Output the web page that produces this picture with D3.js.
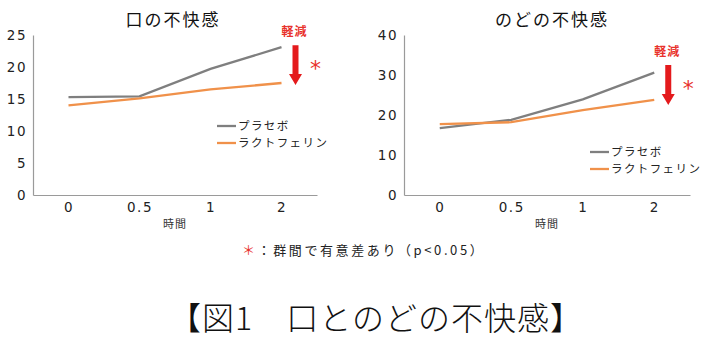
<!DOCTYPE html>
<html>
<head>
<meta charset="utf-8">
<script src="https://cdn.jsdelivr.net/npm/d3@7"></script>
<style>
  body { margin: 0; background: #fff; }
  svg { display: block; font-family: "Noto Sans CJK JP", "DejaVu Sans", sans-serif; }
</style>
</head>
<body>
<div id="chart"></div>
<script>
var width = 709;
var height = 364;

// data
var times = ["0", "0.5", "1", "2"];
var seriesNames = ["プラセボ", "ラクトフェリン"];
var seriesColors = ["#7f7f7f", "#f0914a"];

var mouthPlacebo = [15.3, 15.4, 19.7, 23.1];
var mouthLacto   = [14.0, 15.1, 16.5, 17.5];
var mouthTicks   = [0, 5, 10, 15, 20, 25];
var mouthArrow   = [23.4, 17.2];   // arrow top / bottom in data units

var throatPlacebo = [16.7, 18.8, 23.9, 30.6];
var throatLacto   = [17.7, 18.2, 21.2, 23.8];
var throatTicks   = [0, 10, 20, 30, 40];
var throatArrow   = [32.5, 22.5];

var svg = d3.select("#chart").append("svg")
    .attr("width", width)
    .attr("height", height);

function drawChart(cfg) {
    var g = svg.append("g");

    var x = d3.scalePoint()
        .domain(times)
        .range([cfg.left, cfg.right])
        .padding(0.5);

    var y = d3.scaleLinear()
        .domain([0, d3.max(cfg.ticks)])
        .range([195, 35]);

    // axes (no tick marks)
    var yAxis = g.append("g")
        .attr("transform", "translate(" + cfg.left + ",0)")
        .call(d3.axisLeft(y).tickValues(cfg.ticks).tickSize(0).tickPadding(6));
    var xAxis = g.append("g")
        .attr("transform", "translate(0,195)")
        .call(d3.axisBottom(x).tickSize(0).tickPadding(7));

    [yAxis, xAxis].forEach(function(a) {
        a.select(".domain").attr("stroke", "#9a9a9a").attr("stroke-width", 1.2);
        a.selectAll("text")
            .attr("fill", "#222")
            .style("font-family", "'DejaVu Sans', sans-serif")
            .style("font-size", "13.5px")
            .style("letter-spacing", "1.5px");
    });

    g.append("text")
        .attr("x", (cfg.left + cfg.right) / 2)
        .attr("y", 228)
        .attr("text-anchor", "middle")
        .style("font-size", "11px")
        .style("letter-spacing", "1px")
        .attr("fill", "#333")
        .text("時間");

    g.append("text")
        .attr("x", cfg.titleX)
        .attr("y", 26)
        .attr("text-anchor", "middle")
        .style("font-size", "17px")
        .style("letter-spacing", "2px")
        .attr("fill", "#111")
        .text(cfg.title);

    var line = d3.line()
        .x(function(d, i) { return x(times[i]); })
        .y(function(d) { return y(d); });

    [cfg.placebo, cfg.lacto].forEach(function(vals, i) {
        g.append("path")
            .datum(vals)
            .attr("d", line)
            .attr("fill", "none")
            .attr("stroke", seriesColors[i])
            .attr("stroke-width", 2.3);
    });

    // legend
    seriesNames.forEach(function(name, i) {
        var ly = cfg.legendY + i * 17;
        g.append("line")
            .attr("x1", cfg.left + cfg.legendX)
            .attr("x2", cfg.left + cfg.legendX + 19)
            .attr("y1", ly).attr("y2", ly)
            .attr("stroke", seriesColors[i])
            .attr("stroke-width", 2.3);
        g.append("text")
            .attr("x", cfg.left + cfg.legendX + 21)
            .attr("y", ly + 4)
            .style("font-size", "11.5px")
            .style("letter-spacing", "1.4px")
            .attr("fill", "#222")
            .text(name);
    });

    // red arrow: 軽減
    var ax = x("2") + 14;
    var top = y(cfg.arrow[0]);
    var bot = y(cfg.arrow[1]);
    var head = 11;
    var pts = [
        [ax - 3, top], [ax + 3, top], [ax + 3, bot - head], [ax + 6.5, bot - head],
        [ax, bot], [ax - 6.5, bot - head], [ax - 3, bot - head]
    ];
    g.append("path")
        .attr("d", "M" + pts.join("L") + "Z")
        .attr("fill", "#e41a1c");

    g.append("text")
        .attr("x", ax - 1)
        .attr("y", top - 9)
        .attr("text-anchor", "middle")
        .style("font-size", "12px")
        .style("font-weight", "bold")
        .style("letter-spacing", "1px")
        .attr("fill", "#e8322c")
        .text("軽減");

    g.append("text")
        .attr("x", ax + 20)
        .attr("y", (top + bot) / 2 + 11)
        .attr("text-anchor", "middle")
        .style("font-size", "22px")
        .style("font-family", "'DejaVu Sans', sans-serif")
        .attr("fill", "#e8322c")
        .text("*");
}

drawChart({
    title: "口の不快感", titleX: 173,
    left: 33, right: 317,
    ticks: mouthTicks, placebo: mouthPlacebo, lacto: mouthLacto, arrow: mouthArrow,
    legendX: 184, legendY: 126
});

drawChart({
    title: "のどの不快感", titleX: 552,
    left: 404, right: 690,
    ticks: throatTicks, placebo: throatPlacebo, lacto: throatLacto, arrow: throatArrow,
    legendX: 186, legendY: 152
});

// footnote
var note = svg.append("text")
    .attr("x", 242)
    .attr("y", 255)
    .style("font-size", "13px")
    .style("letter-spacing", "2.6px")
    .attr("fill", "#222");
note.append("tspan").attr("fill", "#e8322c").text("＊");
note.append("tspan").text("：群間で有意差あり（p<0.05）");

// caption
svg.append("text")
    .attr("x", 376)
    .attr("y", 330)
    .attr("text-anchor", "middle")
    .style("font-family", "'Noto Sans CJK JP', serif")
    .style("font-weight", "300")
    .style("font-size", "32px")
    .style("letter-spacing", "1px")
    .attr("fill", "#111")
    .text("【図1\u3000口とのどの不快感】");
</script>
</body>
</html>
